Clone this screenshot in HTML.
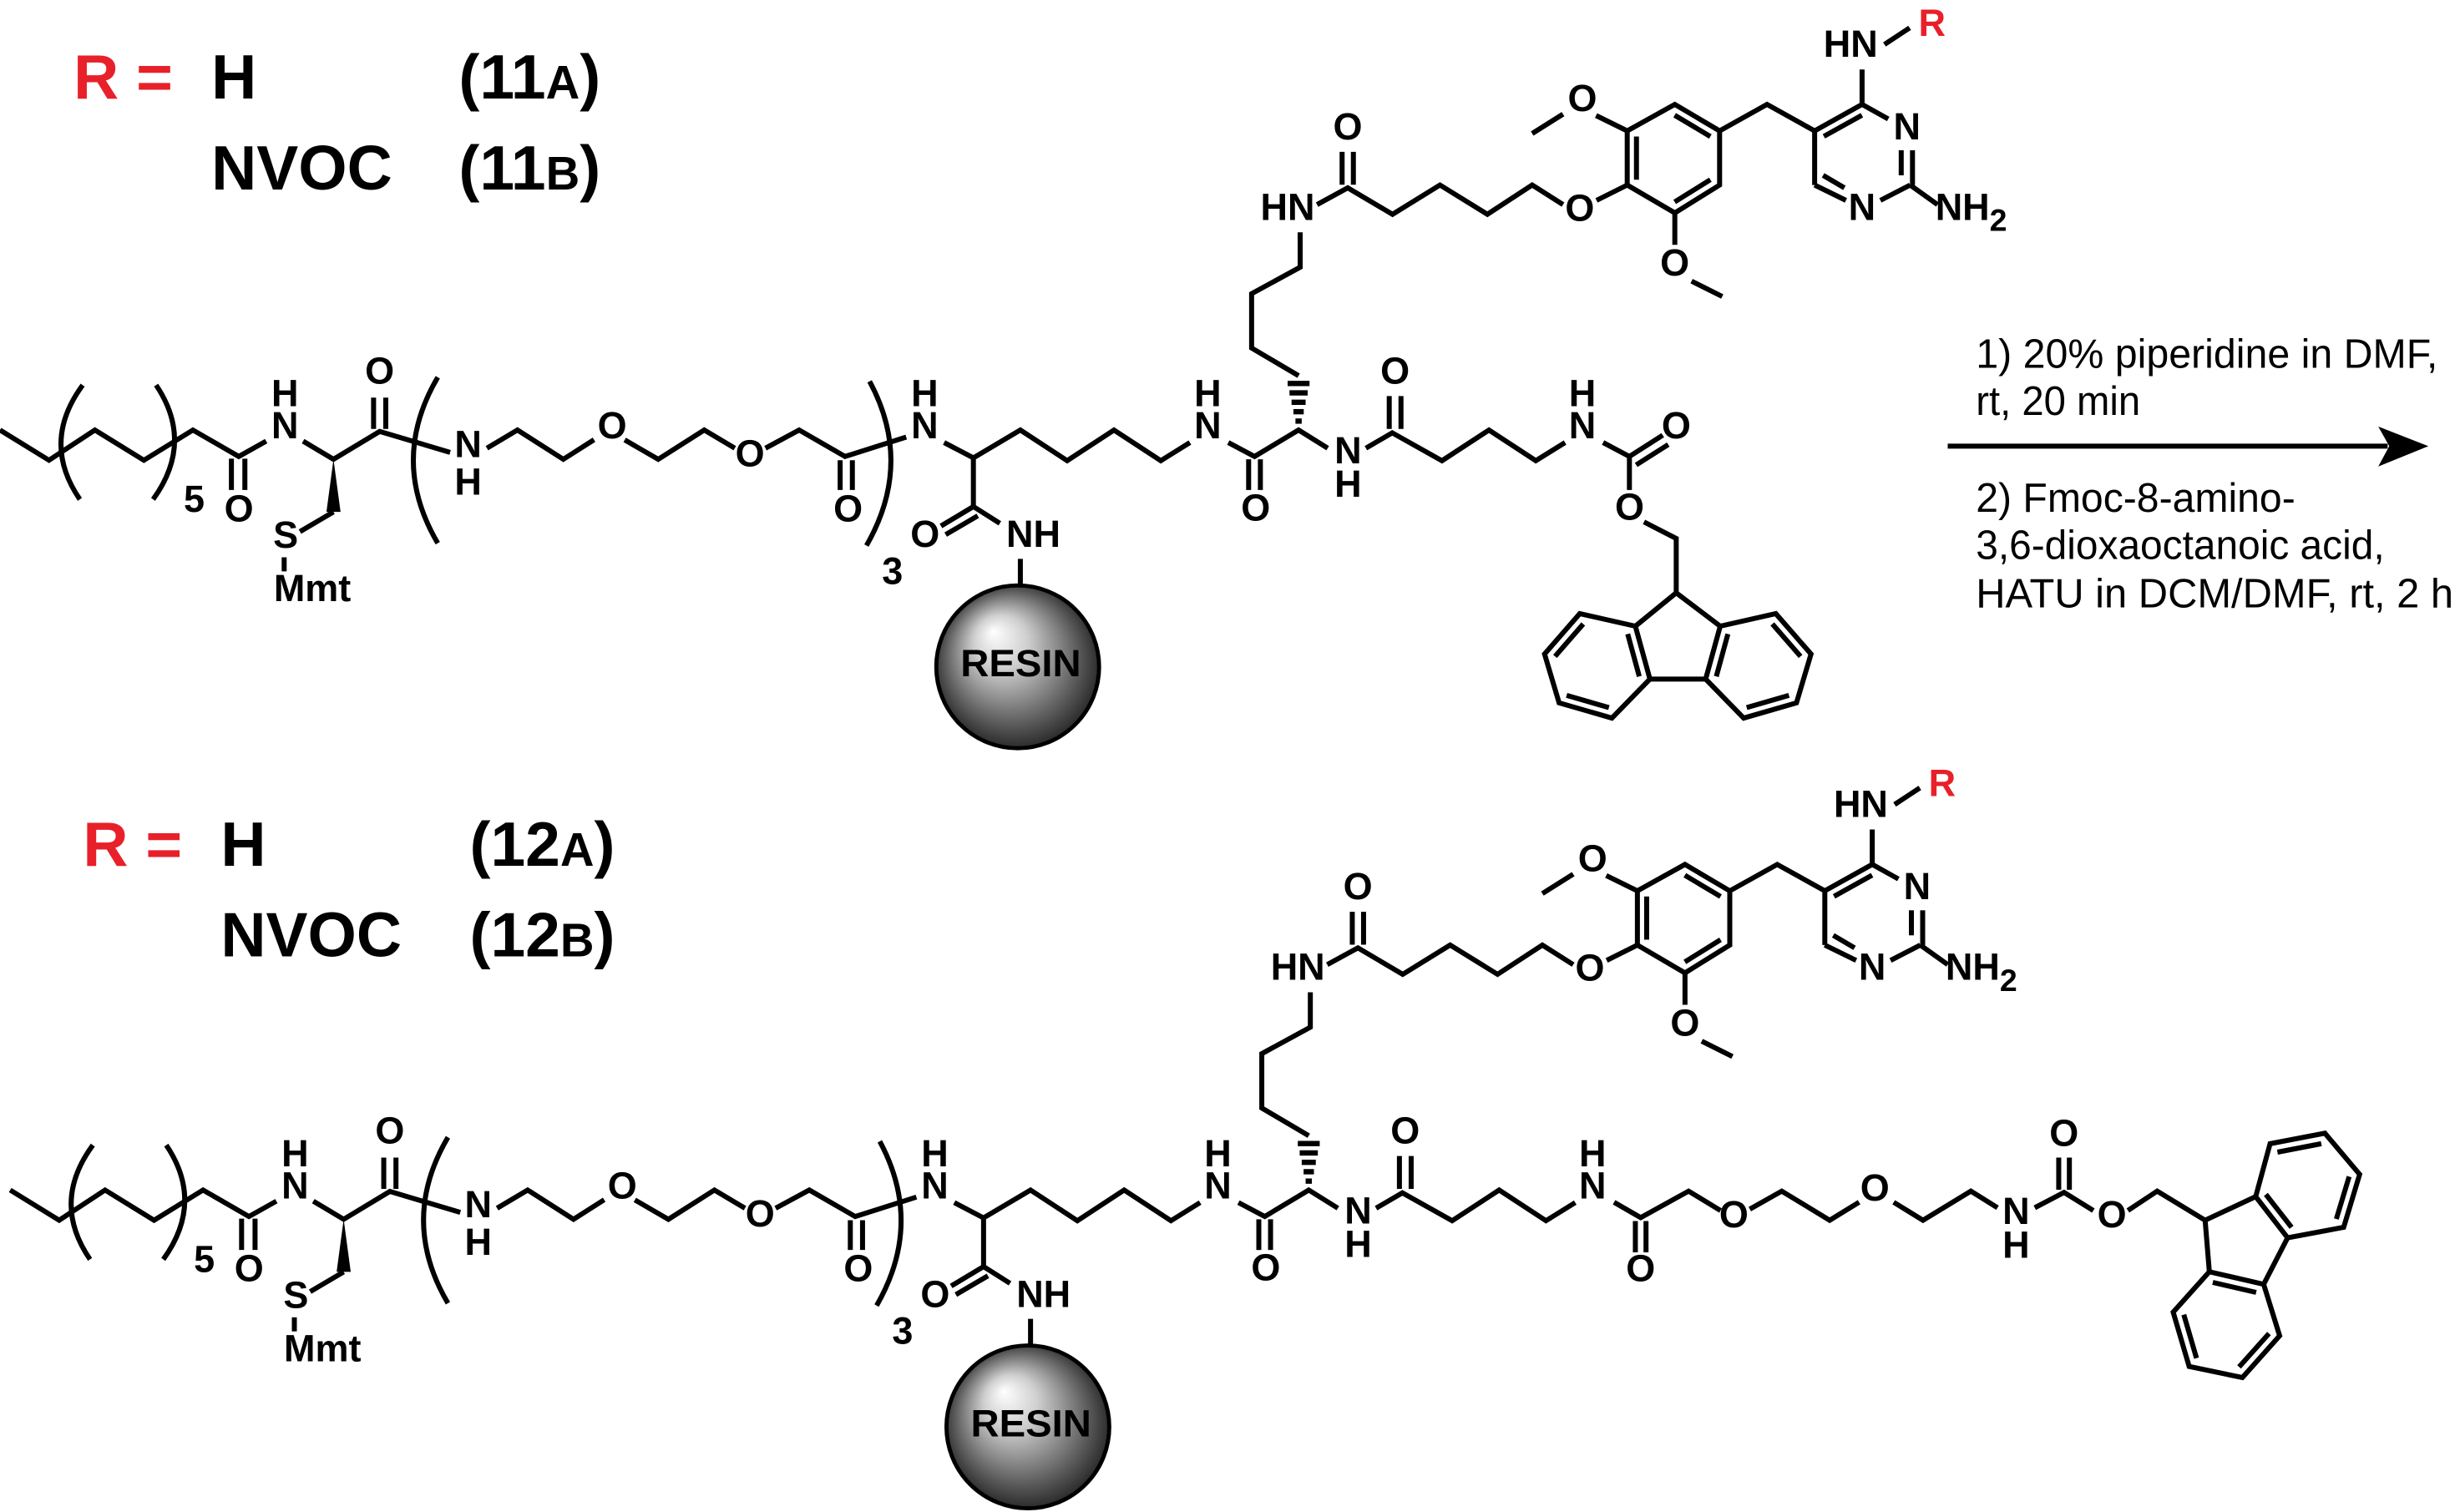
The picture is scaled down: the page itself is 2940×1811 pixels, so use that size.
<!DOCTYPE html>
<html><head><meta charset="utf-8"><style>
html,body{margin:0;padding:0;background:#fff;}
svg{display:block;}
.b{fill:none;stroke:#000;stroke-width:3.2;stroke-linejoin:miter;stroke-linecap:butt;}
.t{font-family:"Liberation Sans",Arial,sans-serif;font-weight:bold;font-size:24px;text-anchor:middle;fill:#000;}
.L{font-family:"Liberation Sans",Arial,sans-serif;font-weight:bold;font-size:40px;fill:#000;}
.r{font-family:"Liberation Sans",Arial,sans-serif;font-size:26px;fill:#000;}
</style></head><body>
<svg width="2940" height="1811" viewBox="0 0 1568 965.87" preserveAspectRatio="none" xmlns="http://www.w3.org/2000/svg">
<defs>
<radialGradient id="rg" cx="0.5" cy="0.5" r="0.55" fx="0.35" fy="0.28">
<stop offset="0" stop-color="#ffffff"/><stop offset="0.3" stop-color="#cfcfcf"/><stop offset="0.75" stop-color="#5a5a5a"/><stop offset="1" stop-color="#1a1a1a"/>
</radialGradient>
</defs>
<rect width="1568" height="966" fill="#fff"/>

<!-- labels top -->
<text class="L" x="47" y="63" fill="#e8202a" style="fill:#e8202a">R =</text>
<text class="L" x="135" y="63">H</text>
<text class="L" x="293" y="63">(11<tspan font-size="30">A</tspan>)</text>
<text class="L" x="135" y="121">NVOC</text>
<text class="L" x="293" y="121">(11<tspan font-size="30">B</tspan>)</text>

<!-- labels bottom -->
<text class="L" x="53" y="553" style="fill:#e8202a">R =</text>
<text class="L" x="141" y="553">H</text>
<text class="L" x="300" y="553">(12<tspan font-size="30">A</tspan>)</text>
<text class="L" x="141" y="611">NVOC</text>
<text class="L" x="300" y="611">(12<tspan font-size="30">B</tspan>)</text>

<!-- reagents and arrow -->
<text class="r" x="1262" y="235" textLength="295" lengthAdjust="spacingAndGlyphs">1) 20% piperidine in DMF,</text>
<text class="r" x="1262" y="265" textLength="105" lengthAdjust="spacingAndGlyphs">rt, 20 min</text>
<line x1="1244" y1="285" x2="1525" y2="285" stroke="#000" stroke-width="3.2"/>
<polygon points="1551,285 1519,272.5 1526,285 1519,298" fill="#000"/>
<text class="r" x="1262" y="327" textLength="204" lengthAdjust="spacingAndGlyphs">2) Fmoc-8-amino-</text>
<text class="r" x="1262" y="357" textLength="261" lengthAdjust="spacingAndGlyphs">3,6-dioxaoctanoic acid,</text>
<text class="r" x="1262" y="388" textLength="305" lengthAdjust="spacingAndGlyphs">HATU in DCM/DMF, rt, 2 h</text>

<!-- ============ TOP COMMON ============ -->
<g>
<polyline class="b" points="0,274.7 31.3,294 60.6,274.7 91.9,294 123.2,274.7 152.5,291.6 170,281.8"/>
<line class="b" x1="147.8" y1="293" x2="147.8" y2="313"/><line class="b" x1="156.4" y1="293" x2="156.4" y2="313"/>
<polyline class="b" points="193.6,281.8 213,293.4 242.5,275.6 287.5,289"/>
<line class="b" x1="238.6" y1="254" x2="238.6" y2="274"/><line class="b" x1="246.4" y1="254" x2="246.4" y2="274"/>
<polygon points="213,293.4 208.5,327 217.5,327" fill="#000"/>
<line class="b" x1="213" y1="327" x2="191.6" y2="339.6"/>
<line class="b" x1="181.5" y1="356" x2="181.5" y2="365"/>
<path class="b" d="M52.8,246 Q26,282.5 51,319"/>
<path class="b" d="M99.7,246 Q124.2,282.5 97.8,319"/>
<path class="b" d="M279.6,241 Q248.4,294 279.6,347"/>
<path class="b" d="M555.4,243.6 Q583.6,296 553.4,348.5"/>
<polyline class="b" points="311,286.3 330.5,274.7 359.8,293.4 379.4,280.9"/>
<polyline class="b" points="399,281 420.4,293.4 449.8,274.7 469.3,286.3"/>
<polyline class="b" points="488.9,286.3 510.4,274.7 539.7,291.6 578.8,279.2"/>
<line class="b" x1="536.6" y1="294" x2="536.6" y2="313"/><line class="b" x1="544.4" y1="294" x2="544.4" y2="313"/>
<polyline class="b" points="603,282.7 621.7,292.5 651.7,274.7 681.6,294.3 711.5,274.7 741.4,294.3 760,282.7"/>
<polyline class="b" points="621.7,292.5 621.7,323.6 638.6,334.3"/>
<line class="b" x1="621.7" y1="323.6" x2="601" y2="336"/><line class="b" x1="624.5" y1="329.5" x2="604" y2="341.5"/>
<line class="b" x1="651.7" y1="357" x2="651.7" y2="374"/>
<circle cx="650" cy="426" r="52" fill="url(#rg)" stroke="#000" stroke-width="2.6"/>
<polyline class="b" points="784.5,282.7 801.3,291.6 829.4,274.7 848,286.3"/>
<line class="b" x1="797.5" y1="293.4" x2="797.5" y2="313"/><line class="b" x1="805" y1="293.4" x2="805" y2="313"/>
<g stroke="#000" stroke-width="3.4"><line x1="822.4" y1="245" x2="836.4" y2="245"/><line x1="823.6" y1="251" x2="835.2" y2="251"/><line x1="824.9" y1="257" x2="833.9" y2="257"/><line x1="826.1" y1="263" x2="832.7" y2="263"/><line x1="827.4" y1="269" x2="831.4" y2="269"/></g>
<polyline class="b" points="872.4,286.3 889.2,276.5 921,294.3 951,274.7 980.9,294.3 999.6,282.7"/>
<line class="b" x1="887.3" y1="253" x2="887.3" y2="274"/><line class="b" x1="894.8" y1="253" x2="894.8" y2="274"/>
<polyline class="b" points="829.4,240 799.4,222.3 799.4,187.6 830.4,170.7 830.4,148.4"/>
<polyline class="b" points="841.2,130.7 860.8,120 889.4,136.9 919.7,118.2 950,136.9 978.6,118.2 998.3,130.7"/>
<line class="b" x1="857.2" y1="97" x2="857.2" y2="118"/><line class="b" x1="864.4" y1="97" x2="864.4" y2="118"/>
<line class="b" x1="1019.7" y1="128" x2="1039.3" y2="118.2"/>
<polygon class="b" points="1039.3,118.2 1039.3,83.6 1069.7,66.7 1098.3,83.6 1098.3,118.2 1069.7,136"/>
<line class="b" x1="1045.2" y1="87.2" x2="1045.2" y2="114.8"/>
<line class="b" x1="1069.6" y1="73.6" x2="1092.4" y2="87.2"/>
<line class="b" x1="1092.4" y1="114.8" x2="1069.6" y2="129"/>
<line class="b" x1="1039.3" y1="83.6" x2="1019.4" y2="73.8"/>
<line class="b" x1="998.3" y1="72.9" x2="978.6" y2="85.3"/>
<line class="b" x1="1069.7" y1="136" x2="1069.7" y2="156.4"/>
<line class="b" x1="1080.4" y1="179.6" x2="1100" y2="189.4"/>
<polyline class="b" points="1098.3,83.6 1128.6,66.7 1159,83.6"/>
<polyline class="b" points="1159,118.2 1159,83.6 1189.3,66.7 1206,76"/>
<line class="b" x1="1164.9" y1="87.1" x2="1189.2" y2="73.6"/>
<line class="b" x1="1214.3" y1="96" x2="1214.3" y2="112"/><line class="b" x1="1221.5" y1="96" x2="1221.5" y2="118.2"/>
<line class="b" x1="1220" y1="118.2" x2="1201" y2="128"/>
<line class="b" x1="1179" y1="128" x2="1159" y2="118.2"/>
<line class="b" x1="1164.4" y1="112" x2="1178" y2="120"/>
<line class="b" x1="1220" y1="118.2" x2="1237.5" y2="130.7"/>
<line class="b" x1="1189.3" y1="66.7" x2="1189.3" y2="44.4"/>
<line class="b" x1="1203.6" y1="28.4" x2="1219.7" y2="17.8"/>
<text class="t" x="182" y="259.6">H</text><text class="t" x="182" y="280">N</text>
<text class="t" x="242.5" y="245">O</text><text class="t" x="152.6" y="333">O</text>
<text class="t" x="182.5" y="350">S</text><text class="t" x="199.5" y="384">Mmt</text>
<text class="t" x="124" y="327">5</text>
<text class="t" x="299" y="292">N</text><text class="t" x="299" y="316">H</text>
<text class="t" x="391" y="280">O</text><text class="t" x="479" y="298">O</text>
<text class="t" x="541.7" y="333">O</text>
<text class="t" x="590.6" y="280">N</text><text class="t" x="590.6" y="259.6">H</text>
<text class="t" x="570" y="373">3</text>
<text class="t" x="590.8" y="349.4">O</text><text class="t" x="660" y="349.4">NH</text>
<text class="t" x="652" y="432" font-size="27" textLength="77" lengthAdjust="spacingAndGlyphs">RESIN</text>
<text class="t" x="771.4" y="280">N</text><text class="t" x="771.4" y="259.6">H</text>
<text class="t" x="802" y="332.5">O</text>
<text class="t" x="861" y="296">N</text><text class="t" x="861" y="317.4">H</text>
<text class="t" x="891" y="245">O</text>
<text class="t" x="1010.7" y="280">N</text><text class="t" x="1010.7" y="259.6">H</text>
<text class="t" x="822.4" y="140.5">HN</text>
<text class="t" x="860.8" y="89">O</text>
<text class="t" x="1009" y="141">O</text>
<text class="t" x="1010.7" y="71">O</text>
<text class="t" x="1069.7" y="176">O</text>
<text class="t" x="1218" y="89">N</text>
<text class="t" x="1189.3" y="140.5">N</text>
<text class="t" x="1259" y="140.5">NH<tspan font-size="20" dy="7">2</tspan></text>
<text class="t" x="1182" y="36.4">HN</text>
<text class="t" x="1234" y="23" style="fill:#e8202a">R</text>
</g>

<!-- top Fmoc -->
<polyline class="b" points="1023.9,282.7 1040.7,291.6 1040.7,313"/>
<line class="b" x1="1040.7" y1="291.6" x2="1062" y2="278"/><line class="b" x1="1045" y1="297" x2="1065.5" y2="284"/>
<polyline class="b" points="1050,333.4 1070.6,344 1070.6,378.7"/>
<text class="t" x="1070.6" y="280">O</text><text class="t" x="1040.8" y="332">O</text>
<polyline class="b" points="1044.5,400 1070.6,378.7 1098.7,400"/>
<polygon class="b" points="1044.5,400 1009,392 986.5,417.8 995.8,449 1029.5,458.7 1053.8,433.8"/>
<polygon class="b" points="1098.7,400 1134.2,392 1156.7,417.8 1147.4,449 1113.7,458.7 1089.4,433.8"/>
<line class="b" x1="1053.8" y1="433.8" x2="1089.4" y2="433.8"/>
<line class="b" x1="1011.2" y1="398.6" x2="993.2" y2="419.3"/>
<line class="b" x1="1000.6" y1="444.2" x2="1027.6" y2="452"/>
<line class="b" x1="1039.6" y1="405" x2="1047" y2="432.1"/>
<line class="b" x1="1132" y1="398.6" x2="1150" y2="419.3"/>
<line class="b" x1="1142.6" y1="444.2" x2="1115.6" y2="452"/>
<line class="b" x1="1103.6" y1="405" x2="1096.2" y2="432.1"/>

<!-- ============ BOTTOM COMMON ============ -->
<g transform="translate(6.5,485.5)">
<polyline class="b" points="0,274.7 31.3,294 60.6,274.7 91.9,294 123.2,274.7 152.5,291.6 170,281.8"/>
<line class="b" x1="147.8" y1="293" x2="147.8" y2="313"/><line class="b" x1="156.4" y1="293" x2="156.4" y2="313"/>
<polyline class="b" points="193.6,281.8 213,293.4 242.5,275.6 287.5,289"/>
<line class="b" x1="238.6" y1="254" x2="238.6" y2="274"/><line class="b" x1="246.4" y1="254" x2="246.4" y2="274"/>
<polygon points="213,293.4 208.5,327 217.5,327" fill="#000"/>
<line class="b" x1="213" y1="327" x2="191.6" y2="339.6"/>
<line class="b" x1="181.5" y1="356" x2="181.5" y2="365"/>
<path class="b" d="M52.8,246 Q26,282.5 51,319"/>
<path class="b" d="M99.7,246 Q124.2,282.5 97.8,319"/>
<path class="b" d="M279.6,241 Q248.4,294 279.6,347"/>
<path class="b" d="M555.4,243.6 Q583.6,296 553.4,348.5"/>
<polyline class="b" points="311,286.3 330.5,274.7 359.8,293.4 379.4,280.9"/>
<polyline class="b" points="399,281 420.4,293.4 449.8,274.7 469.3,286.3"/>
<polyline class="b" points="488.9,286.3 510.4,274.7 539.7,291.6 578.8,279.2"/>
<line class="b" x1="536.6" y1="294" x2="536.6" y2="313"/><line class="b" x1="544.4" y1="294" x2="544.4" y2="313"/>
<polyline class="b" points="603,282.7 621.7,292.5 651.7,274.7 681.6,294.3 711.5,274.7 741.4,294.3 760,282.7"/>
<polyline class="b" points="621.7,292.5 621.7,323.6 638.6,334.3"/>
<line class="b" x1="621.7" y1="323.6" x2="601" y2="336"/><line class="b" x1="624.5" y1="329.5" x2="604" y2="341.5"/>
<line class="b" x1="651.7" y1="357" x2="651.7" y2="374"/>
<circle cx="650" cy="426" r="52" fill="url(#rg)" stroke="#000" stroke-width="2.6"/>
<polyline class="b" points="784.5,282.7 801.3,291.6 829.4,274.7 848,286.3"/>
<line class="b" x1="797.5" y1="293.4" x2="797.5" y2="313"/><line class="b" x1="805" y1="293.4" x2="805" y2="313"/>
<g stroke="#000" stroke-width="3.4"><line x1="822.4" y1="245" x2="836.4" y2="245"/><line x1="823.6" y1="251" x2="835.2" y2="251"/><line x1="824.9" y1="257" x2="833.9" y2="257"/><line x1="826.1" y1="263" x2="832.7" y2="263"/><line x1="827.4" y1="269" x2="831.4" y2="269"/></g>
<polyline class="b" points="872.4,286.3 889.2,276.5 921,294.3 951,274.7 980.9,294.3 999.6,282.7"/>
<line class="b" x1="887.3" y1="253" x2="887.3" y2="274"/><line class="b" x1="894.8" y1="253" x2="894.8" y2="274"/>
<polyline class="b" points="829.4,240 799.4,222.3 799.4,187.6 830.4,170.7 830.4,148.4"/>
<polyline class="b" points="841.2,130.7 860.8,120 889.4,136.9 919.7,118.2 950,136.9 978.6,118.2 998.3,130.7"/>
<line class="b" x1="857.2" y1="97" x2="857.2" y2="118"/><line class="b" x1="864.4" y1="97" x2="864.4" y2="118"/>
<line class="b" x1="1019.7" y1="128" x2="1039.3" y2="118.2"/>
<polygon class="b" points="1039.3,118.2 1039.3,83.6 1069.7,66.7 1098.3,83.6 1098.3,118.2 1069.7,136"/>
<line class="b" x1="1045.2" y1="87.2" x2="1045.2" y2="114.8"/>
<line class="b" x1="1069.6" y1="73.6" x2="1092.4" y2="87.2"/>
<line class="b" x1="1092.4" y1="114.8" x2="1069.6" y2="129"/>
<line class="b" x1="1039.3" y1="83.6" x2="1019.4" y2="73.8"/>
<line class="b" x1="998.3" y1="72.9" x2="978.6" y2="85.3"/>
<line class="b" x1="1069.7" y1="136" x2="1069.7" y2="156.4"/>
<line class="b" x1="1080.4" y1="179.6" x2="1100" y2="189.4"/>
<polyline class="b" points="1098.3,83.6 1128.6,66.7 1159,83.6"/>
<polyline class="b" points="1159,118.2 1159,83.6 1189.3,66.7 1206,76"/>
<line class="b" x1="1164.9" y1="87.1" x2="1189.2" y2="73.6"/>
<line class="b" x1="1214.3" y1="96" x2="1214.3" y2="112"/><line class="b" x1="1221.5" y1="96" x2="1221.5" y2="118.2"/>
<line class="b" x1="1220" y1="118.2" x2="1201" y2="128"/>
<line class="b" x1="1179" y1="128" x2="1159" y2="118.2"/>
<line class="b" x1="1164.4" y1="112" x2="1178" y2="120"/>
<line class="b" x1="1220" y1="118.2" x2="1237.5" y2="130.7"/>
<line class="b" x1="1189.3" y1="66.7" x2="1189.3" y2="44.4"/>
<line class="b" x1="1203.6" y1="28.4" x2="1219.7" y2="17.8"/>
<text class="t" x="182" y="259.6">H</text><text class="t" x="182" y="280">N</text>
<text class="t" x="242.5" y="245">O</text><text class="t" x="152.6" y="333">O</text>
<text class="t" x="182.5" y="350">S</text><text class="t" x="199.5" y="384">Mmt</text>
<text class="t" x="124" y="327">5</text>
<text class="t" x="299" y="292">N</text><text class="t" x="299" y="316">H</text>
<text class="t" x="391" y="280">O</text><text class="t" x="479" y="298">O</text>
<text class="t" x="541.7" y="333">O</text>
<text class="t" x="590.6" y="280">N</text><text class="t" x="590.6" y="259.6">H</text>
<text class="t" x="570" y="373">3</text>
<text class="t" x="590.8" y="349.4">O</text><text class="t" x="660" y="349.4">NH</text>
<text class="t" x="652" y="432" font-size="27" textLength="77" lengthAdjust="spacingAndGlyphs">RESIN</text>
<text class="t" x="771.4" y="280">N</text><text class="t" x="771.4" y="259.6">H</text>
<text class="t" x="802" y="332.5">O</text>
<text class="t" x="861" y="296">N</text><text class="t" x="861" y="317.4">H</text>
<text class="t" x="891" y="245">O</text>
<text class="t" x="1010.7" y="280">N</text><text class="t" x="1010.7" y="259.6">H</text>
<text class="t" x="822.4" y="140.5">HN</text>
<text class="t" x="860.8" y="89">O</text>
<text class="t" x="1009" y="141">O</text>
<text class="t" x="1010.7" y="71">O</text>
<text class="t" x="1069.7" y="176">O</text>
<text class="t" x="1218" y="89">N</text>
<text class="t" x="1189.3" y="140.5">N</text>
<text class="t" x="1259" y="140.5">NH<tspan font-size="20" dy="7">2</tspan></text>
<text class="t" x="1182" y="36.4">HN</text>
<text class="t" x="1234" y="23" style="fill:#e8202a">R</text>
</g>

<!-- bottom extension -->
<polyline class="b" points="1030.9,768 1047.9,777.8 1078.5,760.9 1098.9,773.3"/>
<line class="b" x1="1044.5" y1="780" x2="1044.5" y2="800"/><line class="b" x1="1051.3" y1="780" x2="1051.3" y2="800"/>
<polyline class="b" points="1117.6,772.4 1138,760.9 1168.6,779.5 1187.4,768"/>
<polyline class="b" points="1209.5,768 1228.2,779.5 1258.8,760.9 1275.8,771.5"/>
<polyline class="b" points="1299.6,771.5 1318.3,761.7 1337,773.3"/>
<line class="b" x1="1314.9" y1="739.5" x2="1314.9" y2="760"/><line class="b" x1="1321.7" y1="739.5" x2="1321.7" y2="760"/>
<polyline class="b" points="1359.1,773.3 1377.8,760.9 1408.4,779.5"/>
<text class="t" x="1047.9" y="818.5">O</text>
<text class="t" x="1107.4" y="784">O</text>
<text class="t" x="1197.5" y="767">O</text>
<text class="t" x="1287.7" y="782">N</text><text class="t" x="1287.7" y="803.5">H</text>
<text class="t" x="1318.3" y="732">O</text>
<text class="t" x="1348.9" y="784">O</text>
<polyline class="b" points="1440.7,764.4 1408.4,779.5 1411.1,812.4"/>
<polygon class="b" points="1440.7,764.4 1449.9,730.6 1484.9,723.9 1507.1,750.2 1496.9,784 1461.1,790.7"/>
<polygon class="b" points="1411.1,812.4 1445.8,820.4 1456,853.3 1432.2,880 1398.2,872.9 1388,838.2"/>
<line class="b" x1="1461.1" y1="790.7" x2="1445.8" y2="820.4"/>
<line class="b" x1="1454.6" y1="736" x2="1482.6" y2="730.6"/>
<line class="b" x1="1500.4" y1="751.6" x2="1492.2" y2="778.7"/>
<line class="b" x1="1447.2" y1="763" x2="1463.6" y2="784"/>
<line class="b" x1="1413.3" y1="819.2" x2="1441" y2="825.6"/>
<line class="b" x1="1449.2" y1="851.9" x2="1430.1" y2="873.2"/>
<line class="b" x1="1402.9" y1="867.6" x2="1394.8" y2="839.8"/>
</svg>
</body></html>
